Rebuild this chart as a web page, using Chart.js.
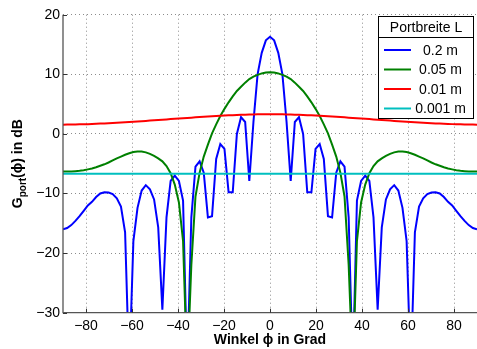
<!DOCTYPE html>
<html>
<head>
<meta charset="utf-8">
<script src="https://cdn.jsdelivr.net/npm/chart.js@4"></script>
<style>
  body { margin: 0; background: #fff; }
  #wrap { width: 477px; height: 349px; }
</style>
</head>
<body>
<div id="wrap"><canvas id="chart"></canvas></div>
<script>
// Winkel in Grad (Abtastung 1.8 Grad)
const angles = [-90,-88.2,-86.4,-84.6,-82.8,-81,-79.2,-77.4,-75.6,-73.8,-72,-70.2,-68.4,-66.6,-64.8,-63,-61.2,-59.4,-57.6,-55.8,-54,-52.2,-50.4,-48.6,-46.8,-45,-43.2,-41.4,-39.6,-37.8,-36,-34.2,-32.4,-30.6,-28.8,-27,-25.2,-23.4,-21.6,-19.8,-18,-16.2,-14.4,-12.6,-10.8,-9,-7.2,-5.4,-3.6,-1.8,
  0,1.8,3.6,5.4,7.2,9,10.8,12.6,14.4,16.2,18,19.8,21.6,23.4,25.2,27,28.8,30.6,32.4,34.2,36,37.8,39.6,41.4,43.2,45,46.8,48.6,50.4,52.2,54,55.8,57.6,59.4,61.2,63,64.8,66.6,68.4,70.2,72,73.8,75.6,77.4,79.2,81,82.8,84.6,86.4,88.2,90];

// L = 0.2 m
const gain02 = [-16.0,-15.8,-15.3,-14.6,-13.8,-12.9,-12.0,-11.4,-10.6,-10.0,-9.8,-9.85,-10.1,-10.8,-12.2,-16.5,-40,-18.0,-12.4,-9.5,-8.6,-9.3,-11.0,-15.7,-29.5,-14.0,-7.9,-7.0,-7.9,-11.2,-40,-14.0,-5.5,-4.6,-6.5,-14.0,-13.8,-4.2,-1.7,-2.5,-9.8,-9.8,0.0,2.8,2.0,-7.9,2.0,10.0,13.6,15.7,
  16.3,15.7,13.6,10.0,2.0,-7.9,2.0,2.8,0.0,-9.8,-9.8,-2.5,-1.7,-4.2,-13.8,-14.0,-6.5,-4.6,-5.5,-14.0,-40,-11.2,-7.9,-7.0,-7.9,-14.0,-29.5,-15.7,-11.0,-9.3,-8.6,-9.5,-12.4,-18.0,-40,-16.5,-12.2,-10.8,-10.1,-9.85,-9.8,-10.0,-10.6,-11.4,-12.0,-12.9,-13.8,-14.6,-15.3,-15.8,-16.0];

// L = 0.05 m
const gain005 = [-6.3,-6.3,-6.3,-6.25,-6.2,-6.1,-5.95,-5.8,-5.6,-5.35,-5.1,-4.8,-4.45,-4.1,-3.8,-3.5,-3.25,-3.05,-2.95,-2.95,-3.1,-3.35,-3.7,-4.1,-4.6,-5.4,-6.6,-8.5,-11.5,-18,-40,-22,-10.5,-6.5,-3.8,-1.8,0.1,1.6,3.0,4.2,5.3,6.3,7.2,7.9,8.6,9.2,9.6,9.9,10.15,10.3,
  10.35,10.3,10.15,9.9,9.6,9.2,8.6,7.9,7.2,6.3,5.3,4.2,3.0,1.6,0.1,-1.8,-3.8,-6.5,-10.5,-22,-40,-18,-11.5,-8.5,-6.6,-5.4,-4.6,-4.1,-3.7,-3.35,-3.1,-2.95,-2.95,-3.05,-3.25,-3.5,-3.8,-4.1,-4.45,-4.8,-5.1,-5.35,-5.6,-5.8,-5.95,-6.1,-6.2,-6.25,-6.3,-6.3,-6.3];

// L = 0.01 m
const gain001 = [1.55,1.56,1.57,1.58,1.60,1.62,1.64,1.67,1.70,1.73,1.76,1.79,1.83,1.87,1.91,1.95,1.99,2.03,2.08,2.13,2.18,2.23,2.28,2.33,2.38,2.43,2.48,2.53,2.58,2.63,2.68,2.73,2.78,2.83,2.88,2.92,2.96,3.00,3.04,3.08,3.11,3.14,3.17,3.20,3.23,3.25,3.27,3.28,3.29,3.30,
  3.30,3.30,3.29,3.28,3.27,3.25,3.23,3.20,3.17,3.14,3.11,3.08,3.04,3.00,2.96,2.92,2.88,2.83,2.78,2.73,2.68,2.63,2.58,2.53,2.48,2.43,2.38,2.33,2.28,2.23,2.18,2.13,2.08,2.03,1.99,1.95,1.91,1.87,1.83,1.79,1.76,1.73,1.70,1.67,1.64,1.62,1.60,1.58,1.57,1.56,1.55];

// L = 0.001 m (konstant)
const angles0001 = [-90, 90];
const gain0001 = [-6.7, -6.7];

const seriesLabels = ['0.2 m', '0.05 m', '0.01 m', '0.001 m'];
const seriesColors = ['#0000ff', '#008000', '#ff0000', '#00bfbf'];
const xTicks = [-80, -60, -40, -20, 0, 20, 40, 60, 80];
const yTicks = [-30, -20, -10, 0, 10, 20];

const FONT = '"Liberation Sans", Arial, Helvetica, sans-serif';
const minus = v => (v < 0 ? '\u2212' + Math.abs(v) : String(v));
const pts = (xs, ys) => xs.map((x, i) => ({ x: x, y: ys[i] }));

// Achsenlinien, Achsen-Beschriftung, Legende und Tick-Striche im MATLAB-Stil
const matlabDeco = {
  id: 'matlabDeco',
  afterDraw(chart) {
    const ctx = chart.ctx;
    const area = chart.chartArea;
    const xs = chart.scales.x, ys = chart.scales.y;
    ctx.save();
    ctx.setLineDash([]);

    // Achsenlinien links und unten
    ctx.strokeStyle = '#555';
    ctx.lineWidth = 1.3;
    ctx.beginPath();
    ctx.moveTo(area.left, area.top);
    ctx.lineTo(area.left, area.bottom);
    ctx.lineTo(area.right, area.bottom);
    ctx.stroke();

    // kurze Ticks nach innen
    ctx.strokeStyle = '#333';
    ctx.lineWidth = 1;
    ctx.beginPath();
    yTicks.forEach(v => {
      const y = Math.round(ys.getPixelForValue(v)) + 0.5;
      ctx.moveTo(area.left, y); ctx.lineTo(area.left + 4, y);
    });
    xTicks.forEach(v => {
      const x = Math.round(xs.getPixelForValue(v)) + 0.5;
      ctx.moveTo(x, area.bottom); ctx.lineTo(x, area.bottom - 4);
    });
    ctx.stroke();

    // x-Achsentitel
    ctx.fillStyle = '#000';
    ctx.font = 'bold 14px ' + FONT;
    ctx.textAlign = 'center';
    ctx.textBaseline = 'alphabetic';
    ctx.fillText('Winkel \u03d5 in Grad', (area.left + area.right) / 2, 344);

    // y-Achsentitel mit Index
    const parts = [
      { t: 'G', f: 'bold 14px ' + FONT, dy: 0 },
      { t: 'port', f: 'bold 10px ' + FONT, dy: 4 },
      { t: '(\u03d5) in dB', f: 'bold 14px ' + FONT, dy: 0 }
    ];
    let total = 0;
    parts.forEach(p => { ctx.font = p.f; p.w = ctx.measureText(p.t).width; total += p.w; });
    ctx.translate(22, (area.top + area.bottom) / 2);
    ctx.rotate(-Math.PI / 2);
    ctx.textAlign = 'left';
    let pos = -total / 2;
    parts.forEach(p => { ctx.font = p.f; ctx.fillText(p.t, pos, p.dy); pos += p.w; });
    ctx.setTransform(1, 0, 0, 1, 0, 0);

    // Legende
    const lx = 378.5, lw = 95, ty = 16.5, th = 21, eh = 81;
    ctx.fillStyle = '#fff';
    ctx.fillRect(lx, ty, lw, th + eh);
    ctx.strokeStyle = '#000';
    ctx.lineWidth = 1;
    ctx.strokeRect(lx, ty, lw, th);
    ctx.strokeRect(lx, ty + th, lw, eh);
    ctx.fillStyle = '#000';
    ctx.font = '14px ' + FONT;
    ctx.textAlign = 'center';
    ctx.textBaseline = 'middle';
    ctx.fillText('Portbreite L', lx + lw / 2, ty + th / 2 + 1);
    const rows = [50, 69.5, 89, 108.5];
    seriesLabels.forEach((lab, i) => {
      ctx.strokeStyle = seriesColors[i];
      ctx.lineWidth = 2;
      ctx.beginPath();
      ctx.moveTo(384, rows[i]); ctx.lineTo(411, rows[i]);
      ctx.stroke();
      ctx.fillStyle = '#000';
      ctx.fillText(lab, 440.5, rows[i] + 1);
    });
    ctx.restore();
  }
};

const gridStyle = {
  color: 'rgba(0,0,0,0.45)',
  lineWidth: 1,
  drawTicks: false
};

new Chart(document.getElementById('chart'), {
  type: 'line',
  data: {
    datasets: [
      { label: seriesLabels[0], data: pts(angles, gain02), borderColor: seriesColors[0], order: 4 },
      { label: seriesLabels[1], data: pts(angles, gain005), borderColor: seriesColors[1], order: 3 },
      { label: seriesLabels[2], data: pts(angles, gain001), borderColor: seriesColors[2], order: 2 },
      { label: seriesLabels[3], data: pts(angles0001, gain0001), borderColor: seriesColors[3], order: 1 }
    ]
  },
  options: {
    responsive: true,
    maintainAspectRatio: false,
    animation: false,
    layout: { padding: { left: 0, right: 0, top: 14.7, bottom: 0 } },
    datasets: {
      line: { borderWidth: 2, pointRadius: 0, tension: 0, fill: false, clip: 0 }
    },
    plugins: { legend: { display: false }, tooltip: { enabled: false } },
    scales: {
      x: {
        type: 'linear',
        min: -90, max: 90,
        afterBuildTicks: s => { s.ticks = xTicks.map(v => ({ value: v })); },
        afterFit: s => { s.height = 36.3; },
        grid: Object.assign({}, gridStyle),
        border: { display: false, dash: [1, 3] },
        ticks: {
          padding: 5,
          color: '#000',
          font: { family: FONT, size: 14 },
          maxRotation: 0,
          callback: v => minus(v)
        }
      },
      y: {
        min: -30, max: 20,
        afterBuildTicks: s => { s.ticks = yTicks.map(v => ({ value: v })); },
        afterFit: s => { s.width = 63; },
        grid: Object.assign({}, gridStyle),
        border: { display: false, dash: [1, 3] },
        ticks: {
          padding: 3,
          color: '#000',
          font: { family: FONT, size: 14 },
          callback: v => minus(v)
        }
      }
    }
  },
  plugins: [matlabDeco]
});
</script>
</body>
</html>
